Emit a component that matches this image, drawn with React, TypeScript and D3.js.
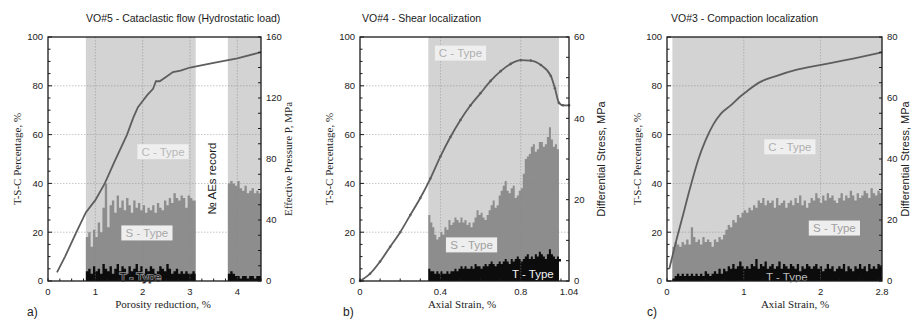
import React from "react";
import * as d3 from "d3";

// ---- panel a: VO#5, hydrostatic load ----
const aPressureX = [0.19, 0.36, 0.6, 0.8, 1.0, 1.2, 1.4, 1.55, 1.67, 1.8, 1.9, 2.0, 2.1, 2.22, 2.28, 2.36, 2.5, 2.64, 2.8, 3.0, 3.5, 4.0, 4.5];
const aPressure = [5.6, 16, 32, 45, 53, 64, 78, 88, 96, 107, 114, 118, 122, 126, 131, 131, 134, 137, 138, 140, 143, 146, 150];
// AE segment 1 (0.80 .. 3.10, every 0.05)
const aS1 = [18, 20, 14, 21, 18, 24, 20, 30, 40, 22, 31, 33, 28, 35, 30, 33, 29, 34, 31, 28, 33, 30, 32, 29, 31, 28, 30, 29, 31, 28, 32, 30, 29, 33, 31, 34, 32, 36, 34, 33, 35, 34, 30, 35, 34, 33, 33];
const aT1 = [4, 5, 3, 6, 4, 5, 3, 7, 5, 4, 6, 3, 5, 7, 4, 6, 5, 3, 6, 4, 5, 7, 4, 6, 3, 5, 4, 6, 5, 3, 4, 6, 5, 4, 7, 5, 3, 4, 5, 3, 4, 3, 4, 3, 3, 4, 3];
// AE segment 2 (3.80 .. 4.50, every 0.05)
const aS2 = [40, 41, 40, 39, 41, 38, 37, 39, 36, 37, 38, 36, 37, 36, 37];
const aT2 = [3, 4, 3, 2, 2, 1, 2, 2, 1, 2, 2, 1, 2, 2, 2];

// ---- panel b: VO#4, shear localization ----
const bStressX = [0, 0.05, 0.1, 0.15, 0.2, 0.25, 0.3, 0.35, 0.4, 0.45, 0.5, 0.55, 0.6, 0.65, 0.7, 0.75, 0.8, 0.85, 0.9, 0.95, 0.97, 0.99, 1.01, 1.04];
const bStress = [0, 1.8, 4.8, 8.4, 12, 16.2, 20.4, 25.2, 30.6, 35.4, 39.6, 43.2, 46.2, 49.2, 51.6, 53.4, 54.3, 54.2, 53.1, 50.4, 47.4, 43.8, 43.2, 43.2];
// AE (0.34 .. 1.00, every 0.01)
const bS = [27, 24, 22, 19, 17, 18, 20, 19, 22, 21, 25, 23, 24, 26, 25, 24, 26, 24, 25, 23, 24, 22, 24, 26, 29, 27, 28, 26, 25, 27, 29, 31, 33, 30, 31, 35, 37, 39, 41, 37, 36, 38, 39, 34, 35, 37, 38, 44, 50, 51, 52, 55, 56, 53, 54, 57, 57, 55, 56, 59, 63, 58, 55, 56, 54, 52, 52];
const bT = [5, 4, 4, 3, 4, 3, 4, 3, 3, 4, 3, 4, 4, 5, 4, 5, 6, 5, 6, 5, 5, 6, 5, 7, 6, 6, 5, 6, 7, 6, 7, 8, 7, 6, 7, 8, 7, 8, 9, 8, 7, 9, 8, 9, 10, 9, 8, 9, 10, 11, 9, 10, 9, 11, 10, 12, 11, 10, 9, 11, 13, 11, 10, 9, 10, 9, 8];

// ---- panel c: VO#3, compaction localization ----
const cStressX = [0.03, 0.1, 0.2, 0.3, 0.41, 0.5, 0.6, 0.7, 0.83, 0.95, 1.05, 1.21, 1.42, 1.68, 1.99, 2.32, 2.8];
const cStress = [4, 11.2, 20.8, 30.4, 40, 46, 51.2, 54.8, 57.6, 60.4, 62.4, 65.2, 67.2, 69.2, 70.8, 72.4, 75];
// AE (0.07 .. 2.80, every 0.03)
const cS = [
  14, 16, 15, 14, 16, 15, 17, 15, 22, 18,
  16, 17, 15, 18, 16, 17, 16, 14, 17, 16, 18, 17,
  19, 21, 23, 22, 25, 24, 27, 26, 28, 29,
  28, 30, 29, 31, 30, 33, 32, 34, 31, 33,
  32, 33, 30, 34, 31, 32, 33, 30, 32, 33,
  31, 34, 32, 35, 31, 33, 30, 32, 34, 33,
  36, 34, 32, 35, 33, 36, 34, 35, 33, 32,
  34, 36, 33, 35, 34, 37, 35, 33, 36, 34,
  35, 37, 36, 34, 38, 36, 35, 37, 36, 38,
];
const cT = [
  1, 2, 3, 2, 3, 2, 3, 2, 3, 2,
  3, 2, 3, 2, 4, 3, 2, 3, 4, 3, 5, 3,
  5, 4, 6, 5, 7, 5, 6, 8, 6, 5,
  6, 5, 7, 6, 9, 5, 7, 6, 8, 5,
  6, 7, 5, 6, 8, 5, 7, 6, 5, 7,
  6, 5, 7, 4, 6, 5, 7, 6, 5, 6,
  7, 5, 6, 4, 5, 7, 5, 6, 4, 5,
  6, 5, 7, 4, 6, 5, 4, 6, 5, 7,
  5, 6, 4, 7, 5, 6, 5, 7, 6, 8,
];

const pctTicks = [0, 20, 40, 60, 80, 100];

const SANS = "'Liberation Sans', Arial, sans-serif";
const SERIF = "'Liberation Serif', 'Times New Roman', serif";
const C_FILL = "#d3d3d3";
const S_FILL = "#8d8d8d";
const T_FILL = "#0c0c0c";

const TOP = 37;
const BOTTOM = 281;

type Seg = { start: number; end: number; step: number; s: number[]; t: number[] };
type Lbl = { text: string; x: number; y: number; box?: string; color: string; halo?: string; rot?: boolean };

type PanelProps = {
  x0: number;
  x1: number;
  xMax: number;
  xTicks: number[];
  xMinor: number;
  rMax: number;
  rTicks: number[];
  rMinor: number;
  curveX: number[];
  curveY: number[];
  smooth: boolean;
  markers?: boolean;
  bands: [number, number][];
  segs: Seg[];
  labels: Lbl[];
  title: string;
  titleX: number;
  xLabel: string;
  xLabelX: number;
  yLabelX: number;
  rLabel: string;
  rLabelFont: string;
  rLabelX: number;
  letter: string;
  letterX: number;
};

function Panel(p: PanelProps) {
  const x = d3.scaleLinear().domain([0, p.xMax]).range([p.x0, p.x1]);
  const y = d3.scaleLinear().domain([0, 100]).range([BOTTOM, TOP]);
  const r = d3.scaleLinear().domain([0, p.rMax]).range([BOTTOM, TOP]);

  const area = d3
    .area<[number, number]>()
    .x((d) => x(d[0]))
    .y0(y(0))
    .y1((d) => y(d[1]))
    .curve(d3.curveStepAfter);

  const pts = (seg: Seg, vals: number[]): [number, number][] => {
    const a: [number, number][] = vals.map((v, i) => [seg.start + i * seg.step, v]);
    a.push([seg.end, vals[vals.length - 1]]);
    return a;
  };

  const curveData: [number, number][] = p.curveX.map((v, i) => [v, p.curveY[i]]);
  const line = d3
    .line<[number, number]>()
    .x((d) => x(d[0]))
    .y((d) => r(d[1]))
    .curve(p.smooth ? d3.curveMonotoneX : d3.curveLinear);

  const leftMinor = d3.range(0, 100.1, 5);
  const rightMinor = d3.range(0, p.rMax + 0.01, p.rMinor);
  const xMinor = d3.range(0, p.xMax + 0.001, p.xMinor);
  const midY = (TOP + BOTTOM) / 2;

  return (
    <g>
      {p.bands.map(([a, b], i) => (
        <rect key={"c" + i} x={x(a)} y={TOP} width={x(b) - x(a)} height={BOTTOM - TOP} fill={C_FILL} />
      ))}
      {p.segs.map((s, i) => (
        <g key={"s" + i}>
          <path d={area(pts(s, s.s)) || ""} fill={S_FILL} />
          <path d={area(pts(s, s.t)) || ""} fill={T_FILL} />
        </g>
      ))}
      {/* grid */}
      {p.xTicks
        .filter((t) => t > 0 && t < p.xMax)
        .map((t) => (
          <line key={"gx" + t} x1={x(t)} x2={x(t)} y1={TOP} y2={BOTTOM} stroke="#8a8a8a" strokeWidth={0.7} strokeDasharray="1.5,1.5" opacity={0.7} />
        ))}
      {pctTicks
        .filter((t) => t > 0 && t < 100)
        .map((t) => (
          <line key={"gy" + t} x1={p.x0} x2={p.x1} y1={y(t)} y2={y(t)} stroke="#8a8a8a" strokeWidth={0.7} strokeDasharray="1.5,1.5" opacity={0.7} />
        ))}
      {/* curve */}
      <path d={line(curveData) || ""} fill="none" stroke="#5e5e5e" strokeWidth={1.8} />
      {p.markers &&
        curveData.map((d, i) => <circle key={"m" + i} cx={x(d[0])} cy={r(d[1])} r={1.3} fill="#5e5e5e" />)}
      {/* labels */}
      {p.labels.map((l, i) => {
        const cx = x(l.x);
        const cy = y(l.y);
        const w = l.text.length * 5.9 + 4;
        return (
          <g key={"l" + i} transform={`translate(${cx},${cy})${l.rot ? " rotate(-90)" : ""}`}>
            {l.box && <rect x={-w / 2} y={-7.5} width={w} height={15} fill={l.box} />}
            <text
              textAnchor="middle"
              dy="0.36em"
              fontFamily={SANS}
              fontSize={11.5}
              fill={l.color}
              stroke={l.halo || "none"}
              strokeWidth={l.halo ? 1.6 : 0}
              style={{ paintOrder: "stroke" }}
            >
              {l.text}
            </text>
          </g>
        );
      })}
      {/* frame */}
      <rect x={p.x0} y={TOP} width={p.x1 - p.x0} height={BOTTOM - TOP} fill="none" stroke="#1a1a1a" strokeWidth={1.3} />
      {/* minor / major ticks */}
      {leftMinor.map((t) => (
        <line key={"lt" + t} x1={p.x0} x2={p.x0 + (t % 20 === 0 ? 4 : 2.5)} y1={y(t)} y2={y(t)} stroke="#1a1a1a" strokeWidth={1} />
      ))}
      {rightMinor.map((t) => (
        <line key={"rt" + t} x1={p.x1} x2={p.x1 - 3} y1={r(t)} y2={r(t)} stroke="#1a1a1a" strokeWidth={1} />
      ))}
      {xMinor.map((t) => (
        <line key={"xt" + t} x1={x(t)} x2={x(t)} y1={BOTTOM} y2={BOTTOM - 2.5} stroke="#1a1a1a" strokeWidth={1} />
      ))}
      {pctTicks.map((t) => (
        <text key={"ly" + t} x={p.x0 - 5} y={y(t)} dy="0.35em" textAnchor="end" fontFamily={SANS} fontSize={9.5} fill="#222">
          {t}
        </text>
      ))}
      {p.rTicks.map((t) => (
        <text key={"ry" + t} x={p.x1 + 5} y={r(t)} dy="0.35em" textAnchor="start" fontFamily={SANS} fontSize={9.5} fill="#222">
          {t}
        </text>
      ))}
      {p.xTicks.map((t) => (
        <text key={"xl" + t} x={x(t)} y={295} textAnchor="middle" fontFamily={SANS} fontSize={9.5} fill="#222">
          {String(t)}
        </text>
      ))}
      {/* titles */}
      <text x={p.titleX} y={22} fontFamily={SANS} fontSize={10.5} fill="#1a1a1a">
        {p.title}
      </text>
      <text x={p.xLabelX} y={308} textAnchor="middle" fontFamily={SERIF} fontSize={11} fill="#222">
        {p.xLabel}
      </text>
      <text transform={`translate(${p.yLabelX},${midY}) rotate(-90)`} textAnchor="middle" fontFamily={SERIF} fontSize={11} fill="#222">
        T-S-C Percentage, %
      </text>
      <text transform={`translate(${p.rLabelX},${midY}) rotate(-90)`} textAnchor="middle" fontFamily={p.rLabelFont} fontSize={11} fill="#222">
        {p.rLabel}
      </text>
      <text x={p.letterX} y={316} fontFamily={SANS} fontSize={12} fill="#222">
        {p.letter}
      </text>
    </g>
  );
}

export default function App() {
  return (
    <svg width={914} height={320} style={{ position: "absolute", left: 0, top: 0, background: "#fff" }}>
      <Panel
        x0={48}
        x1={261}
        xMax={4.5}
        xTicks={[0, 1, 2, 3, 4]}
        xMinor={0.25}
        rMax={160}
        rTicks={[0, 40, 80, 120, 160]}
        rMinor={10}
        curveX={aPressureX}
        curveY={aPressure}
        smooth={false}
        bands={[[0.8, 3.12], [3.8, 4.5]]}
        segs={[
          { start: 0.8, end: 3.12, step: 0.05, s: aS1, t: aT1 },
          { start: 3.8, end: 4.5, step: 0.05, s: aS2, t: aT2 },
        ]}
        labels={[
          { text: "C - Type", x: 2.43, y: 53, box: "#efefef", color: "#b8b8b8" },
          { text: "S - Type", x: 2.09, y: 19.7, box: "#eeeeee", color: "#a8a8a8" },
          { text: "T - Type", x: 1.95, y: 1.6, color: "#151515", halo: "#8d8d8d" },
          { text: "№ AEs record", x: 3.47, y: 42, color: "#1a1a1a", rot: true },
        ]}
        title="VO#5 - Cataclastic flow (Hydrostatic load)"
        titleX={86}
        xLabel="Porosity reduction, %"
        xLabelX={163}
        yLabelX={21}
        rLabel="Effective Pressure P, MPa"
        rLabelFont={SERIF}
        rLabelX={292}
        letter="a)"
        letterX={27}
      />
      <Panel
        x0={360}
        x1={569}
        xMax={1.04}
        xTicks={[0, 0.4, 0.8, 1.04]}
        xMinor={0.1}
        rMax={60}
        rTicks={[0, 20, 40, 60]}
        rMinor={5}
        curveX={bStressX}
        curveY={bStress}
        smooth={true}
        markers={true}
        bands={[[0.34, 0.99]]}
        segs={[{ start: 0.34, end: 0.99, step: 0.01, s: bS, t: bT }]}
        labels={[
          { text: "C - Type", x: 0.5, y: 93.4, box: "#efefef", color: "#b0b0b0" },
          { text: "S - Type", x: 0.555, y: 14.8, box: "#eeeeee", color: "#a0a0a0" },
          { text: "T - Type", x: 0.86, y: 2.9, color: "#f2f2f2" },
        ]}
        title="VO#4 - Shear localization"
        titleX={362}
        xLabel="Axial Strain, %"
        xLabelX={462}
        yLabelX={333}
        rLabel="Differential Stress, MPa"
        rLabelFont={SANS}
        rLabelX={605}
        letter="b)"
        letterX={343}
      />
      <Panel
        x0={667}
        x1={882}
        xMax={2.8}
        xTicks={[0, 1, 2, 2.8]}
        xMinor={0.25}
        rMax={80}
        rTicks={[0, 20, 40, 60, 80]}
        rMinor={5}
        curveX={cStressX}
        curveY={cStress}
        smooth={true}
        bands={[[0.07, 2.8]]}
        segs={[{ start: 0.07, end: 2.8, step: 0.03, s: cS, t: cT }]}
        labels={[
          { text: "C - Type", x: 1.6, y: 55, box: "#efefef", color: "#b0b0b0" },
          { text: "S - Type", x: 2.18, y: 21.7, box: "#eeeeee", color: "#a0a0a0" },
          { text: "T - Type", x: 1.56, y: 1.8, color: "#bdbdbd" },
        ]}
        title="VO#3 - Compaction localization"
        titleX={671}
        xLabel="Axial Strain, %"
        xLabelX={795}
        yLabelX={641}
        rLabel="Differential Stress, MPa"
        rLabelFont={SANS}
        rLabelX={909}
        letter="c)"
        letterX={647}
      />
    </svg>
  );
}
